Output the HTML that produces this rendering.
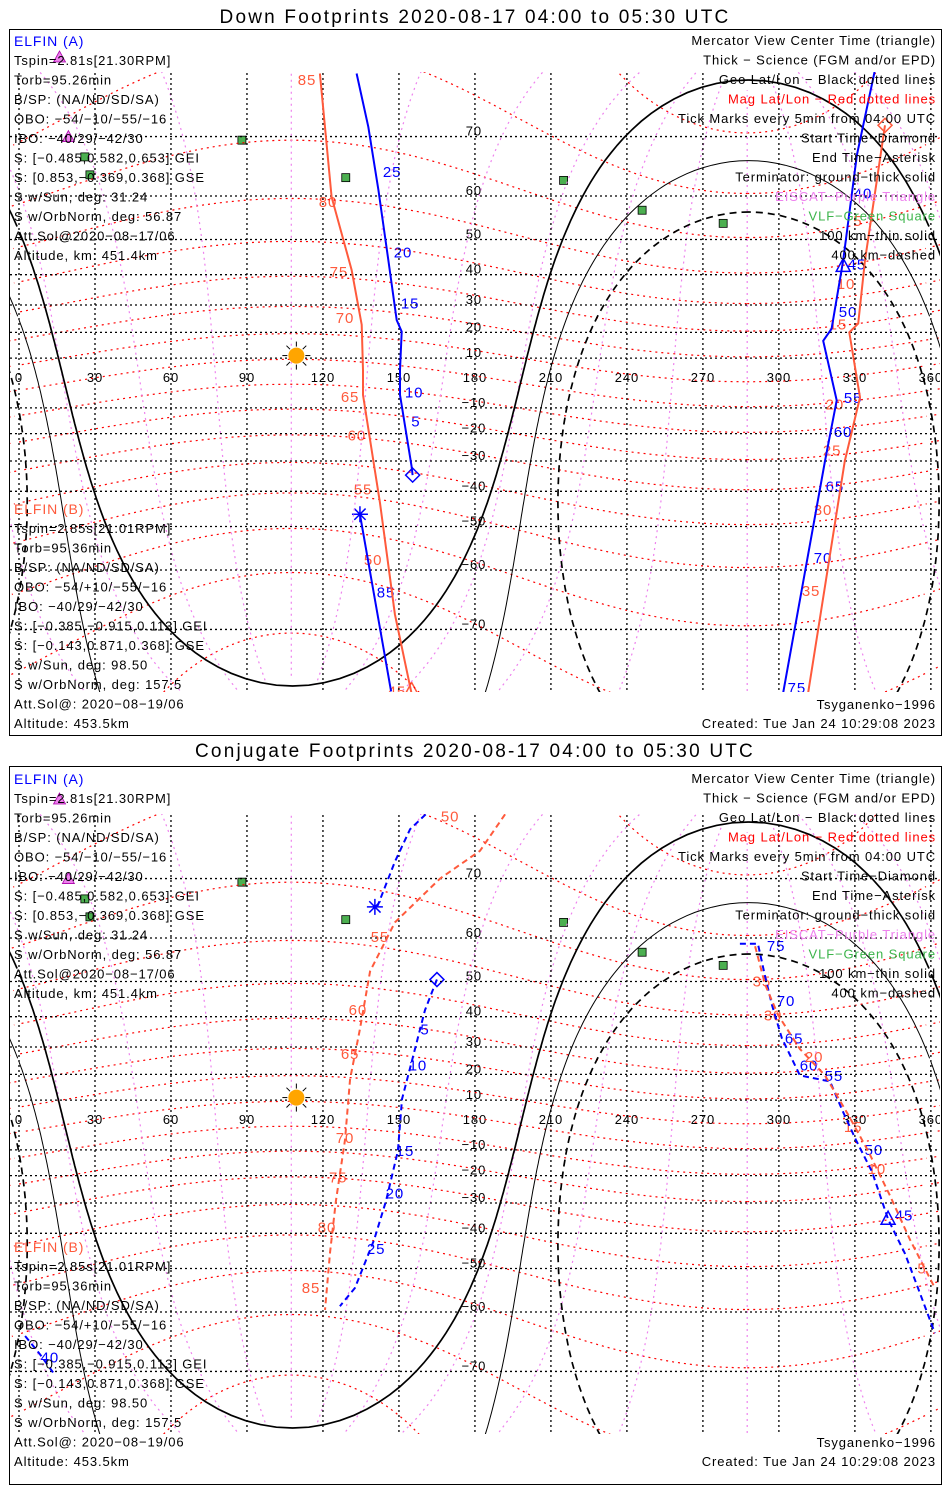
<!DOCTYPE html>
<html><head><meta charset="utf-8"><style>
html,body{margin:0;padding:0;background:#fff;overflow:hidden;width:950px;height:1500px;}
svg{display:block;font-family:"Liberation Sans",sans-serif;letter-spacing:0.9px;overflow:hidden;}
.t{font-size:13px;fill:#000;}
.title{font-size:19px;letter-spacing:2.2px;}
</style></head><body>
<svg id="chart" width="950" height="1500" viewBox="0 0 950 1500">
<defs>
<clipPath id="clip1"><rect x="10" y="72" width="930" height="620"/></clipPath>
<clipPath id="clip2"><rect x="10" y="814" width="930" height="620"/></clipPath>
<clipPath id="clipg1"><rect x="10" y="30" width="930" height="662"/></clipPath>
<clipPath id="clipg2"><rect x="10" y="772" width="930" height="662"/></clipPath>
</defs>
<text x="475" y="23" text-anchor="middle" class="title">Down Footprints 2020-08-17 04:00 to 05:30 UTC</text>
<text x="475" y="757" text-anchor="middle" class="title">Conjugate Footprints 2020-08-17 04:00 to 05:30 UTC</text>
<rect x="9.5" y="29.5" width="932" height="706" fill="none" stroke="#000"/>
<rect x="9.5" y="766.5" width="932" height="718" fill="none" stroke="#000"/>
<g id="p1grid" clip-path="url(#clipg1)"></g>
<g id="p2grid" clip-path="url(#clipg2)"></g>
<g id="p1map" clip-path="url(#clip1)"></g>
<g id="p2map" clip-path="url(#clip2)"></g>
<g id="txt"></g>
</svg>
<script>
// ---------- data ----------
const lonTicks=[0,30,60,90,120,150,180,210,240,270,300,330,360];
const latTicks=[70,60,50,40,30,20,10,-10,-20,-30,-40,-50,-60,-70];
const magLatLevels=[-80,-70,-60,-50,-40,-30,-20,-10,0,10,20,30,40,50,60,70,80];
const magLonLevels=[0,30,60,90,120,150,180,210,240,270,300,330];
const subsolarLat=13.5, subsolarLon=108;
const termRadii=[90,100.1,109.9];
const vlfLon=[88,26,28,129,215,246,278];
const vlfLat=[69.5,67,64,63.5,63,57,54];
const eiscatLon=[16,19.5];
const eiscatLat=[78.5,70];
// Down panel tracks
const dA1Lon=[155.4,155.0,150.4,150.4,151.1,149.1,145.8,141.9,137.9,133.3];
const dA1Lat=[-34.8,-31.9,-4.8,5.2,20.3,24.6,44.4,61.2,71.3,77.1];
const dA2Lon=[338,330.8,325.4,320.8,317.5,322.8,318.2,301.6];
const dA2Lat=[77.5,67.3,44.3,21.4,16.8,-7,-30,-77.2];
const dA3Lon=[146.9,134.6];
const dA3Lat=[-77,-46.7];
const dB1Lon=[155,148.4,142.5,135.8,135.8,135.3,131.3,123.4,118.8];
const dB1Lat=[-77.2,-67.8,-43.5,-4.8,5.2,22.9,41.5,59.8,77.1];
const dB2Lon=[341.9,334,331.3,327.8,332,326,311.5];
const dB2Lat=[71.5,44.3,23.3,20,-5.8,-30,-77.2];
const dALabT=['25','20','15','10','5','40','45','50','55','60','65','70','75','85'];
const dALabLon=[147.3,151.6,154.4,156,156.7,333.2,330.8,327.3,329.3,325.3,322.1,317.4,307.1,144.9];
const dALabLat=[64.5,46.5,30.6,-3.8,-15.4,60.5,43,27.5,-6,-19.3,-38.5,-57.5,-76.7,-64.2];
const dBLabT=['85','80','75','70','65','60','55','50','45','10','15','20','25','30','35','5'];
const dBLabLon=[113.7,122,126.3,128.7,130.7,133.4,135.8,139.8,149.2,326.5,323.3,322.1,321,317.4,312.7,331.2];
const dBLabLat=[76.5,58.8,40.8,25.3,-5.6,-20.7,-39.4,-57.9,-77,37,23,-8.6,-26.3,-45.5,-64,54.5];
// Conjugate panel tracks
const cA1Lon=[165,160.3,155.2,151.2,149.6,144.9,140.2,132.6,126.7];
const cA1Lat=[50.5,42,25.3,10.4,-10.4,-29.3,-42,-54.8,-58.8];
const cA2Lon=[163.4,154.4,148.4,141.7,140.5];
const cA2Lat=[77.8,75.8,72.2,66,65.7];
const cA3Lon=[284.6,291.7,294.5,297.3,301.2,308.3,320.2,324.9,330.4,336.8,343.1,349.8,354.9,361.6];
const cA3Lat=[58.8,58.8,51.4,43.4,33,19.6,17.3,6.2,-6,-18.6,-35.5,-46,-54.8,-64];
const cA4Lon=[2.4,8.3,14.2];
const cA4Lat=[-64.5,-67.5,-70.5];
const cB1Lon=[191.9,182,166.2,148.4,138.6,134.6,130.7,128.7,125.1,122.8,120.8];
const cB1Lat=[77.2,73.5,70,63,52.6,36,18.3,-6,-29.3,-45.5,-59.6];
const cB2Lon=[290.6,294.5,299.6,308.3,318.2,327.3,335.2,343.9,351.8,361.6];
const cB2Lat=[58.3,49.3,40.6,29.3,19.6,4.2,-10.4,-27.5,-42,-54.8];
const cALabT=['5','10','15','20','25','75','70','65','60','55','50','45','40'];
const cALabLon=[160.3,157.5,152.4,148.4,141,298.9,302.8,306,311.9,321.7,337.5,349.4,12.2];
const cALabLat=[36,23.4,-10.4,-26.6,-44.6,58.3,44.6,33,23.4,19.3,-10,-34.3,-68];
const cBLabT=['50','55','60','65','70','75','80','85','35','30','20','15','10','5'];
const cBLabLon=[170.2,142.5,133.8,130.7,128.7,126,121.6,115.3,293.3,297.7,313.9,329.3,338.7,356.5];
const cBLabLat=[77,60.2,42,27.5,-5.2,-20.7,-38.2,-54.8,50,40.3,26.5,-0.8,-17.4,-50];
const leftA=['Tspin=2.81s[21.30RPM]','Torb=95.26min','B/SP: (NA/ND/SD/SA)','OBO: \u221254/\u221210/\u221255/\u221216','IBO: \u221240/29/\u221242/30','S: [\u22120.485,0.582,0.653] GEI','S: [0.853,\u22120.369,0.368] GSE','S w/Sun, deg: 31.24','S w/OrbNorm, deg: 56.87','Att.Sol@2020\u221208\u221217/06','Altitude, km: 451.4km'];
const leftB=['Tspin=2.85s[21.01RPM]','Torb=95.36min','B/SP: (NA/ND/SD/SA)','OBO: \u221254/+10/\u221255/\u221216','IBO: \u221240/29/\u221242/30','S: [\u22120.385,\u22120.915,0.113] GEI','S: [\u22120.143,0.871,0.368] GSE','S w/Sun, deg: 98.50','S w/OrbNorm, deg: 157.5','Att.Sol@: 2020\u221208\u221219/06','Altitude: 453.5km'];
const rightT=['Mercator View Center Time (triangle)','Thick \u2212 Science (FGM and/or EPD)','Geo Lat/Lon \u2212 Black dotted lines','Mag Lat/Lon \u2212 Red dotted lines','Tick Marks every 5min from 04:00 UTC','Start Time\u2212Diamond','End Time\u2212Asterisk','Terminator: ground\u2212thick solid','EISCAT\u2212Purple Triangle','VLF\u2212Green Square','100 km\u2212thin solid','400 km\u2212dashed'];
const rightC=['#000','#000','#000','#ff0000','#000','#000','#000','#000','#ee82ee','#3cb44b','#000','#000'];
// ---------- helpers ----------
const NS='http://www.w3.org/2000/svg', D=Math.PI/180;
const BLUE='#0000ff', RED='#ff5a3c';
function X(lon){return 19+lon*2.533;}
function Y(lat,eq){return eq-142*Math.log(Math.tan(Math.PI/4+lat*D/2));}
function el(tag,parent,attrs){const e=document.createElementNS(NS,tag);for(const k in attrs)e.setAttribute(k,attrs[k]);parent.appendChild(e);return e;}
function magToGeo(mlat,mlon){
  const a=mlat*D,b=mlon*D;
  let x=Math.cos(a)*Math.cos(b),y=Math.cos(a)*Math.sin(b),z=Math.sin(a);
  const t=(90-80.5)*D;
  const x1=x*Math.cos(t)+z*Math.sin(t),z1=-x*Math.sin(t)+z*Math.cos(t);
  const p=287.5*D;
  const x2=x1*Math.cos(p)-y*Math.sin(p),y2=x1*Math.sin(p)+y*Math.cos(p);
  return [Math.asin(Math.max(-1,Math.min(1,z1)))/D,Math.atan2(y2,x2)/D];
}
function segs(pts){
  const out=[];let cur=[],prev=null;
  for(const [la,lo0] of pts){
    const lo=((lo0%360)+360)%360;
    if(Math.abs(la)>79){if(cur.length>1)out.push(cur);cur=[];prev=null;continue;}
    if(prev!==null&&Math.abs(lo-prev)>180){if(cur.length>1)out.push(cur);cur=[];}
    cur.push([la,lo]);prev=lo;
  }
  if(cur.length>1)out.push(cur);
  return out;
}
function pathD(seg,eq,off){return seg.map((p,i)=>(i?'L':'M')+X(p[1]+off).toFixed(1)+' '+Y(p[0],eq).toFixed(1)).join('');}
function wrapPath(g,pts,eq,style,name){
  for(const s of segs(pts))for(const off of [-360,0,360]){
    const e=el('path',g,Object.assign({d:pathD(s,eq,off),fill:'none'},style));
    
    
  }
}
function drawPanel(g,gg,eq,tracks,labels,dashed){
  for(const m of magLatLevels){const pts=[];for(let l=0;l<=360;l+=3)pts.push(magToGeo(m,l));
    wrapPath(g,pts,eq,{stroke:'#ff0000','stroke-width':1.2,'stroke-dasharray':'2,4'},'mag-lat-line');}
  for(const m of magLonLevels){const pts=[];for(let a=-85;a<=85;a+=2)pts.push(magToGeo(a,m));
    wrapPath(g,pts,eq,{stroke:'#ee82ee','stroke-width':1.2,'stroke-dasharray':'2,4'},'mag-lon-line');}
  for(const lo of lonTicks){const e=el('line',g,{x1:X(lo),x2:X(lo),y1:eq-320,y2:eq+310,stroke:'#000','stroke-width':1.3,'stroke-dasharray':'2,3'});
    
    }
  for(const la of latTicks){const e=el('line',g,{x1:10,x2:940,y1:Y(la,eq),y2:Y(la,eq),stroke:'#000','stroke-width':1.3,'stroke-dasharray':'2,3'});
    
    }
  for(const lo of lonTicks){const e=el('text',gg,{x:X(lo),y:eq-1,'text-anchor':'middle',class:'t'});e.textContent=lo;
    
    }
  for(const la of latTicks){const e=el('text',gg,{x:X(180)-1,y:Y(la,eq)-1,'text-anchor':'middle',class:'t'});e.textContent=la<0?'\u2212'+(-la):la;
    
    }
  const styles=[{stroke:'#000','stroke-width':1.7},{stroke:'#000','stroke-width':1},{stroke:'#000','stroke-width':1.7,'stroke-dasharray':'7,5'}];
  const tnames=['terminator-ground','terminator-100km','terminator-400km'];
  termRadii.forEach((r,i)=>{const pts=[];const p1=subsolarLat*D,rr=r*D;
    for(let th=0;th<=360;th+=1.5){const t=th*D;
      const la=Math.asin(Math.sin(p1)*Math.cos(rr)+Math.cos(p1)*Math.sin(rr)*Math.cos(t));
      const lo=subsolarLon*D+Math.atan2(Math.sin(t)*Math.sin(rr)*Math.cos(p1),Math.cos(rr)-Math.sin(p1)*Math.sin(la));
      pts.push([la/D,lo/D]);}
    wrapPath(g,pts,eq,styles[i],tnames[i]);});
  vlfLon.forEach((lo,i)=>{const e=el('rect',gg,{x:X(lo)-4,y:Y(vlfLat[i],eq)-4,width:8,height:8,fill:'#4caf50',stroke:'#000','stroke-width':0.8});
    
    });
  eiscatLon.forEach((lo,i)=>{const x=X(lo),y=Y(eiscatLat[i],eq);const e=el('path',gg,{d:`M${x} ${y-6}L${x+6} ${y+5}L${x-6} ${y+5}Z`,fill:'#ee82ee',stroke:'#a0a','stroke-width':0.8});
    
    });
  const sx=X(109.5),sy=Y(subsolarLat-2.5,eq);
  for(let k=0;k<8;k++){const a=k*Math.PI/4;const e=el('line',g,{x1:sx+9*Math.cos(a),y1:sy+9*Math.sin(a),x2:sx+14*Math.cos(a),y2:sy+14*Math.sin(a),stroke:'#000'});
    
    }
  const sun=el('circle',g,{cx:sx,cy:sy,r:8,fill:'#ffa500'});
  
  
  tracks.forEach(tk=>{const d=tk.lon.map((lo,i)=>(i?'L':'M')+X(lo).toFixed(1)+' '+Y(tk.lat[i],eq).toFixed(1)).join('');
    const e=el('path',g,{d,fill:'none',stroke:tk.c,'stroke-width':2,'stroke-dasharray':dashed?'6,4':'none'});
    
    });
  labels.forEach(L=>{L.t.forEach((t,i)=>{const e=el('text',gg,{x:X(L.lon[i]),y:Y(L.lat[i],eq)+5,'text-anchor':'middle','font-size':15,fill:L.c});e.textContent=t;
    
    });});
}
function marker(g,type,lon,lat,eq,c){
  const x=X(lon),y=Y(lat,eq);let e;
  if(type==='diamond')e=el('path',g,{d:`M${x} ${y-7}L${x+7} ${y}L${x} ${y+7}L${x-7} ${y}Z`,fill:'none',stroke:c,'stroke-width':1.5});
  else if(type==='tri')e=el('path',g,{d:`M${x} ${y-8}L${x+7} ${y+5}L${x-7} ${y+5}Z`,fill:'none',stroke:c,'stroke-width':1.5});
  else{const p=[];for(let k=0;k<4;k++){const a=k*Math.PI/4;p.push(`M${x-8*Math.cos(a)} ${y-8*Math.sin(a)}L${x+8*Math.cos(a)} ${y+8*Math.sin(a)}`);}
    e=el('path',g,{d:p.join(''),stroke:c,'stroke-width':1.5});}
  
  
}
const g1=document.getElementById('p1map'),g2=document.getElementById('p2map');
const gg1=document.getElementById('p1grid'),gg2=document.getElementById('p2grid');
drawPanel(g1,gg1,383,[
 {lon:dA1Lon,lat:dA1Lat,c:BLUE,n:'elfin-a-track'},{lon:dA2Lon,lat:dA2Lat,c:BLUE,n:'elfin-a-track'},{lon:dA3Lon,lat:dA3Lat,c:BLUE,n:'elfin-a-track'},
 {lon:dB1Lon,lat:dB1Lat,c:RED,n:'elfin-b-track'},{lon:dB2Lon,lat:dB2Lat,c:RED,n:'elfin-b-track'}],
 [{t:dALabT,lon:dALabLon,lat:dALabLat,c:BLUE},{t:dBLabT,lon:dBLabLon,lat:dBLabLat,c:RED}],false);
marker(gg1,'diamond',dA1Lon[0],dA1Lat[0],383,BLUE);
marker(gg1,'tri',325.4,42.5,383,BLUE);
marker(gg1,'ast',dA3Lon[1],dA3Lat[1],383,BLUE);
marker(gg1,'tri',dB1Lon[0],dB1Lat[0]+0.3,383,RED);
marker(gg1,'diamond',dB2Lon[0],dB2Lat[0],383,RED);
drawPanel(g2,gg2,1125,[
 {lon:cA1Lon,lat:cA1Lat,c:BLUE,n:'elfin-a-conj-track'},{lon:cA2Lon,lat:cA2Lat,c:BLUE,n:'elfin-a-conj-track'},{lon:cA3Lon,lat:cA3Lat,c:BLUE,n:'elfin-a-conj-track'},{lon:cA4Lon,lat:cA4Lat,c:BLUE,n:'elfin-a-conj-track'},
 {lon:cB1Lon,lat:cB1Lat,c:RED,n:'elfin-b-conj-track'},{lon:cB2Lon,lat:cB2Lat,c:RED,n:'elfin-b-conj-track'}],
 [{t:cALabT,lon:cALabLon,lat:cALabLat,c:BLUE},{t:cBLabT,lon:cBLabLon,lat:cBLabLat,c:RED}],true);
marker(gg2,'diamond',cA1Lon[0],cA1Lat[0],1125,BLUE);
marker(gg2,'ast',cA2Lon[4],cA2Lat[4],1125,BLUE);
marker(gg2,'tri',343.1,-35.5,1125,BLUE);
const tg=document.getElementById('txt');
function txt(x,y,s,fill,anchor,name,size){const e=el('text',tg,{x,y,fill,'text-anchor':anchor,'font-size':size||13});e.textContent=s;
  
  }
[0,738].forEach(o=>{
  txt(14,46+o,'ELFIN (A)',BLUE,'start','elfin-a-heading',14);
  leftA.forEach((s,i)=>txt(14,65+o+i*19.5,s,'#000','start','elfin-a-info'));
  txt(14,514+o,'ELFIN (B)',RED,'start','elfin-b-heading',14);
  leftB.forEach((s,i)=>txt(14,533+o+i*19.5,s,'#000','start','elfin-b-info'));
  rightT.forEach((s,i)=>txt(936,45+o+i*19.5,s,rightC[i],'end','legend-entry'));
  txt(936,709+o,'Tsyganenko\u22121996','#000','end','model-label');
  txt(936,728+o,'Created: Tue Jan 24 10:29:08 2023','#000','end','created-timestamp');
});
</script>
</body></html>
